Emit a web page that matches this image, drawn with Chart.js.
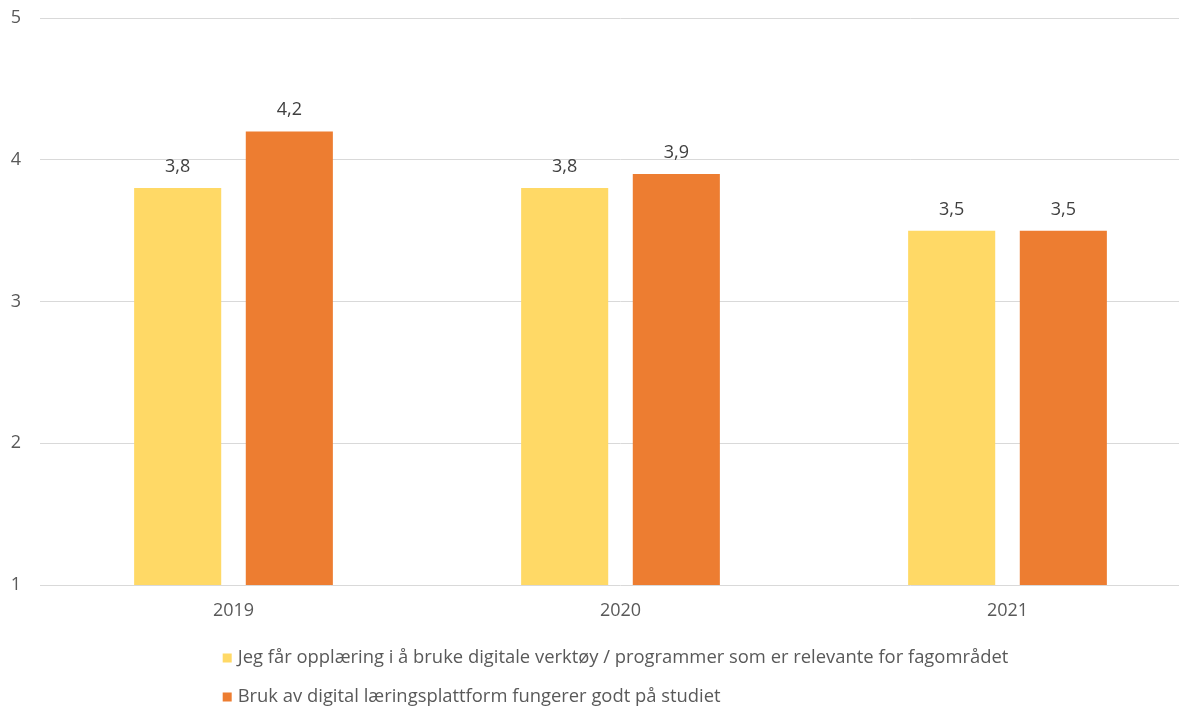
<!DOCTYPE html>
<html>
<head>
<meta charset="utf-8">
<script src="https://cdn.jsdelivr.net/npm/chart.js@4"></script>
<style>
  html, body { margin: 0; padding: 0; background: #fff; overflow: hidden; }
  /* plot area runs a little past the right edge, as in the reference */
  #wrap { width: 1201px; height: 708px; }
</style>
</head>
<body>
<div id="wrap"><canvas id="chart"></canvas></div>
<script>
// Data
const years = ['2019', '2020', '2021'];
const opplaering = [3.8, 3.8, 3.5];
const plattform = [4.2, 3.9, 3.5];
const seriesNames = [
    'Jeg får opplæring i å bruke digitale verktøy / programmer som er relevante for fagområdet',
    'Bruk av digital læringsplattform fungerer godt på studiet'
];
const yTicks = [1, 2, 3, 4, 5];

const FONT = "'Open Sans', 'Noto Sans', sans-serif";
const colors = ['#FFD966', '#ED7D31'];

const fmt = (v) => v.toFixed(1).replace('.', ',');

// value labels above each bar
const barLabels = {
    id: 'barLabels',
    afterDatasetsDraw(chart) {
        const ctx = chart.ctx;
        ctx.save();
        ctx.font = '18px ' + FONT;
        ctx.fillStyle = '#404040';
        ctx.textAlign = 'center';
        ctx.textBaseline = 'alphabetic';
        chart.data.datasets.forEach((ds, i) => {
            chart.getDatasetMeta(i).data.forEach((bar, j) => {
                ctx.fillText(fmt(ds.data[j]), bar.x, bar.y - 16);
            });
        });
        ctx.restore();
    }
};

// legend stacked vertically, left aligned as a block
const stackedLegend = {
    id: 'stackedLegend',
    afterDraw(chart) {
        const ctx = chart.ctx;
        const area = chart.chartArea;
        ctx.save();
        ctx.font = '18.4px ' + FONT;
        const widths = chart.data.datasets.map(ds => ctx.measureText(ds.label).width);
        const total = 15 + Math.max(...widths);
        const x0 = (area.left + area.right) / 2 - 5 - total / 2;
        ctx.textBaseline = 'middle';
        ctx.textAlign = 'left';
        chart.data.datasets.forEach((ds, i) => {
            const y = 658 + i * 39;
            ctx.fillStyle = ds.backgroundColor;
            ctx.fillRect(x0, y - 4.5, 9, 9);
            ctx.fillStyle = '#595959';
            ctx.fillText(ds.label, x0 + 15, y);
        });
        ctx.restore();
    }
};

new Chart(document.getElementById('chart').getContext('2d'), {
    type: 'bar',
    data: {
        labels: years,
        datasets: [
            { label: seriesNames[0], data: opplaering, backgroundColor: colors[0] },
            { label: seriesNames[1], data: plattform, backgroundColor: colors[1] }
        ]
    },
    options: {
        responsive: true,
        maintainAspectRatio: false,
        animation: false,
        datasets: { bar: { categoryPercentage: 0.577, barPercentage: 0.78 } },
        layout: { padding: { top: 0, right: 0, bottom: 80, left: 0 } },
        scales: {
            x: {
                grid: { display: false },
                border: { display: false },
                ticks: { color: '#595959', font: { family: FONT, size: 18 }, padding: 7 },
                afterFit: (s) => { s.height = 43; }
            },
            y: {
                min: 1, max: 5,
                afterBuildTicks: (s) => { s.ticks = yTicks.map(v => ({ value: v })); },
                grid: { color: '#d9d9d9', lineWidth: 1, drawTicks: false },
                border: { display: false },
                ticks: { color: '#595959', font: { family: FONT, size: 18 }, padding: 19 },
                afterFit: (s) => { s.width = 40; s.paddingTop = 18; s.paddingBottom = 11; }
            }
        },
        plugins: {
            legend: { display: false },
            tooltip: { enabled: false }
        }
    },
    plugins: [barLabels, stackedLegend]
});
</script>
</body>
</html>
